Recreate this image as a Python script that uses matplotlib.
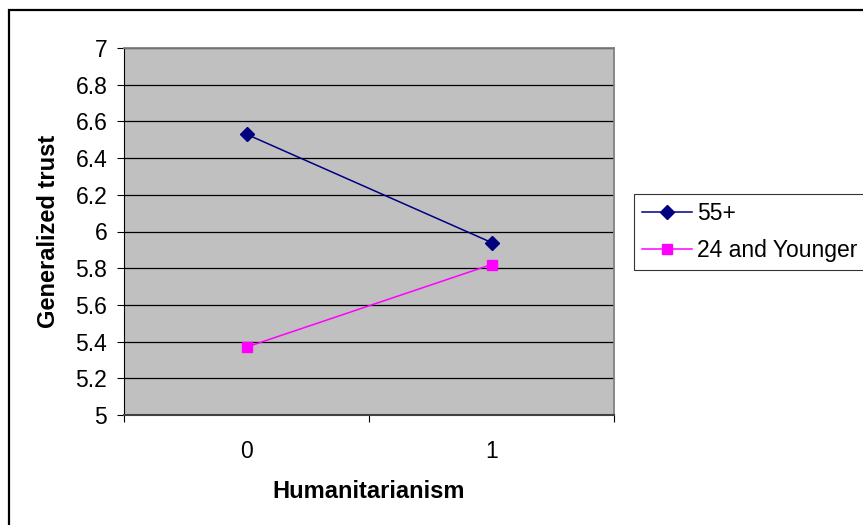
import matplotlib
matplotlib.use("Agg")
import matplotlib.pyplot as plt
from matplotlib.patches import Rectangle
from matplotlib.ticker import FixedLocator, NullFormatter

plt.rcParams['font.family'] = ['Liberation Sans', 'DejaVu Sans']

categories = ["0", "1"]
series_names = ["55+", "24 and Younger"]
trust_55_plus = [6.53, 5.94]
trust_24_younger = [5.37, 5.82]
y_ticks = [5, 5.2, 5.4, 5.6, 5.8, 6, 6.2, 6.4, 6.6, 6.8, 7]
y_tick_labels = ["5", "5.2", "5.4", "5.6", "5.8", "6", "6.2", "6.4", "6.6", "6.8", "7"]

W, H = 863, 525
fig = plt.figure(figsize=(W / 100, H / 100), dpi=100)

# outer chart frame (runs past the right and bottom edges)
fig.patches.append(Rectangle((9 / W, -0.1), 1.2, (H - 10) / H + 0.1,
                             transform=fig.transFigure, fill=False,
                             edgecolor='black', linewidth=1.6, zorder=0))

left, right, top, bottom = 124, 614, 48, 415
ax = fig.add_axes([left / W, 1 - bottom / H, (right - left) / W, (bottom - top) / H])
ax.set_facecolor('#C0C0C0')

x = list(range(len(categories)))
ax.plot(x, trust_55_plus, color='#000080', linewidth=1.1, marker='D',
        markersize=7.5, label=series_names[0], zorder=3)
ax.plot(x, trust_24_younger, color='#FF00FF', linewidth=1.1, marker='s',
        markersize=7.5, label=series_names[1], zorder=3)

ax.set_xlim(-0.5, len(categories) - 0.5)
ax.set_ylim(5, 7)

fs = 16.5
ax.set_yticks(y_ticks)
ax.set_yticklabels(y_tick_labels, fontsize=fs)
ax.yaxis.grid(True, color='black', linewidth=0.9)
ax.set_axisbelow(True)
ax.tick_params(axis='y', direction='out', length=5, width=0.8, color='black', pad=7)

# major ticks at category boundaries, labels on minor ticks at centers
ax.xaxis.set_major_locator(FixedLocator([-0.5, 0.5, 1.5]))
ax.xaxis.set_major_formatter(NullFormatter())
ax.xaxis.set_minor_locator(FixedLocator(x))
ax.set_xticklabels(categories, minor=True, fontsize=fs)
ax.tick_params(axis='x', which='major', direction='out', length=5, width=0.8, color='black')
ax.tick_params(axis='x', which='minor', length=0, pad=18)

for side in ['top', 'right']:
    ax.spines[side].set_color('#808080')
    ax.spines[side].set_linewidth(1.3)
ax.spines['bottom'].set_color('#404040')
ax.spines['bottom'].set_linewidth(1.5)
ax.spines['left'].set_color('black')
ax.spines['left'].set_linewidth(0.8)

ax.set_xlabel("Humanitarianism", fontsize=17, fontweight='bold', labelpad=12)
ax.set_ylabel("Generalized trust", fontsize=17, fontweight='bold', labelpad=11)

leg = fig.legend(loc='upper left', bbox_to_anchor=(634 / W, 1 - 194 / H),
                 fontsize=fs, frameon=True, fancybox=False, borderpad=0.35,
                 handlelength=2.2, handletextpad=0.22, labelspacing=0.6,
                 borderaxespad=0)
leg.get_frame().set_edgecolor('black')
leg.get_frame().set_linewidth(0.8)

fig.savefig("out.png", dpi=100)
